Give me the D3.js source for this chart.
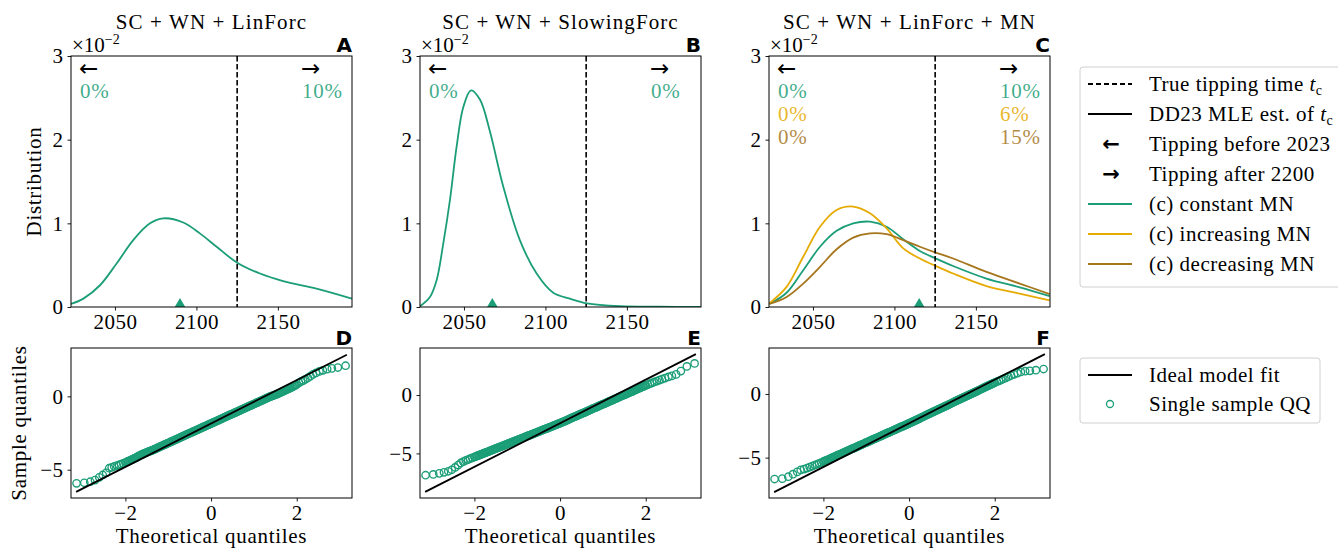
<!DOCTYPE html>
<html>
<head>
<meta charset="utf-8">
<script src="https://cdn.jsdelivr.net/npm/d3@7"></script>
<style>
  body { margin: 0; background: #fff; }
  svg { font-family: 'Liberation Serif', serif; }
</style>
</head>
<body>
<svg id="vis"></svg>
<script>
// ---- data ----
const panelTitles = ['SC + WN + LinForc', 'SC + WN + SlowingForc', 'SC + WN + LinForc + MN'];
const topLetters = ['A', 'B', 'C'];
const botLetters = ['D', 'E', 'F'];

// tipping-time densities (units of 1e-2)
const yearsA = [2023, 2030.6, 2040.8, 2051, 2061.2, 2071.5, 2079.6, 2091.9, 2102.1, 2112.4, 2125, 2139, 2153.2, 2173.7, 2195.4];
const kdeA   = [0.036, 0.10, 0.26, 0.52, 0.80, 1.00, 1.06, 1.01, 0.88, 0.72, 0.53, 0.40, 0.31, 0.22, 0.10];

const yearsB = [2023, 2029.1, 2033.2, 2037.3, 2041.4, 2045.5, 2049.6, 2054.3, 2059.8, 2065.9, 2074.1, 2084.3, 2094.6, 2104.8, 2115, 2125.5, 2145.7, 2170, 2195.4];
const kdeB   = [0.01, 0.12, 0.32, 0.76, 1.28, 1.92, 2.39, 2.59, 2.48, 2.10, 1.44, 0.80, 0.40, 0.17, 0.10, 0.044, 0.01, 0.003, 0.0];

const yearsC    = [2023.2, 2033.8, 2044, 2054.3, 2064.5, 2074.7, 2085, 2095.2, 2105.4, 2115.6, 2125.4, 2136, 2156.5, 2176.9, 2195.3];
const kdeCconst = [0.036, 0.17, 0.44, 0.72, 0.91, 1.00, 1.02, 0.96, 0.81, 0.67, 0.58, 0.49, 0.34, 0.235, 0.13];
const kdeCinc   = [0.044, 0.24, 0.60, 0.96, 1.16, 1.20, 1.12, 0.94, 0.70, 0.58, 0.49, 0.40, 0.25, 0.16, 0.08];
const kdeCdec   = [0.036, 0.12, 0.28, 0.48, 0.69, 0.83, 0.88, 0.87, 0.80, 0.72, 0.65, 0.58, 0.42, 0.28, 0.155];

const trueTipping = 2125;
const mleYears = [2089.9, 2067.4, 2115.2];

const pctBefore = [['0%'], ['0%'], ['0%', '0%', '0%']];
const pctAfter  = [['10%'], ['0%'], ['10%', '6%', '15%']];

const yearTicks = [2050, 2100, 2150];
const densTicks = [0, 1, 2, 3];

// QQ plots: theoretical quantiles shared by all three panels
const qqTheory = [-3.14, -2.96, -2.82, -2.71, -2.61, -2.53, -2.45, -2.38, -2.32, -2.26, -2.2, -2.15, -2.1, -2.05,
  -2, -1.975, -1.95, -1.925, -1.9, -1.875, -1.85, -1.825, -1.8, -1.775,
  -1.75, -1.725, -1.7, -1.675, -1.65, -1.625, -1.6, -1.575, -1.55, -1.525,
  -1.5, -1.475, -1.45, -1.425, -1.4, -1.375, -1.35, -1.325, -1.3, -1.275,
  -1.25, -1.225, -1.2, -1.175, -1.15, -1.125, -1.1, -1.075, -1.05, -1.025,
  -1, -0.975, -0.95, -0.925, -0.9, -0.875, -0.85, -0.825, -0.8, -0.775,
  -0.75, -0.725, -0.7, -0.675, -0.65, -0.625, -0.6, -0.575, -0.55, -0.525,
  -0.5, -0.475, -0.45, -0.425, -0.4, -0.375, -0.35, -0.325, -0.3, -0.275,
  -0.25, -0.225, -0.2, -0.175, -0.15, -0.125, -0.1, -0.075, -0.05, -0.025,
  0,
  0.025, 0.05, 0.075, 0.1, 0.125, 0.15, 0.175, 0.2, 0.225, 0.25,
  0.275, 0.3, 0.325, 0.35, 0.375, 0.4, 0.425, 0.45, 0.475, 0.5,
  0.525, 0.55, 0.575, 0.6, 0.625, 0.65, 0.675, 0.7, 0.725, 0.75,
  0.775, 0.8, 0.825, 0.85, 0.875, 0.9, 0.925, 0.95, 0.975, 1,
  1.025, 1.05, 1.075, 1.1, 1.125, 1.15, 1.175, 1.2, 1.225, 1.25,
  1.275, 1.3, 1.325, 1.35, 1.375, 1.4, 1.425, 1.45, 1.475, 1.5,
  1.525, 1.55, 1.575, 1.6, 1.625, 1.65, 1.675, 1.7, 1.725, 1.75,
  1.775, 1.8, 1.825, 1.85, 1.875, 1.9, 1.925, 1.95, 1.975, 2,
  2.05, 2.1, 2.15, 2.2, 2.26, 2.32, 2.38, 2.45, 2.53, 2.61, 2.71, 2.82, 2.96, 3.14];

const qqSampleD = [-5.93, -5.89, -5.82, -5.71, -5.52, -5.36, -5.21, -4.9, -4.84, -4.78, -4.72, -4.67, -4.62, -4.57,
  -4.51, -4.48, -4.44, -4.41, -4.38, -4.34, -4.31, -4.28, -4.24, -4.21,
  -4.18, -4.14, -4.08, -4.05, -4.01, -3.98, -3.95, -3.91, -3.88, -3.85,
  -3.82, -3.79, -3.76, -3.73, -3.70, -3.68, -3.65, -3.61, -3.58, -3.55,
  -3.51, -3.48, -3.45, -3.41, -3.38, -3.35, -3.31, -3.28, -3.25, -3.21,
  -3.18, -3.15, -3.11, -3.08, -3.05, -3.01, -2.98, -2.95, -2.91, -2.88,
  -2.85, -2.81, -2.78, -2.75, -2.71, -2.68, -2.65, -2.61, -2.58, -2.55,
  -2.51, -2.48, -2.45, -2.41, -2.38, -2.35, -2.31, -2.28, -2.25, -2.21,
  -2.18, -2.15, -2.11, -2.08, -2.05, -2.02, -1.98, -1.95, -1.92, -1.88,
  -1.85,
  -1.82, -1.78, -1.75, -1.72, -1.68, -1.65, -1.62, -1.58, -1.55, -1.52,
  -1.48, -1.45, -1.42, -1.38, -1.35, -1.32, -1.28, -1.25, -1.22, -1.19,
  -1.15, -1.12, -1.09, -1.05, -1.02, -0.99, -0.95, -0.92, -0.89, -0.85,
  -0.82, -0.79, -0.75, -0.72, -0.69, -0.65, -0.62, -0.59, -0.55, -0.52,
  -0.49, -0.45, -0.42, -0.39, -0.35, -0.32, -0.29, -0.25, -0.22, -0.19,
  -0.15, -0.12, -0.09, -0.05, -0.02, 0.00, 0.03, 0.06, 0.09, 0.11,
  0.14, 0.17, 0.21, 0.24, 0.27, 0.31, 0.34, 0.37, 0.41, 0.44,
  0.47, 0.51, 0.54, 0.57, 0.61, 0.65, 0.69, 0.73, 0.77, 0.81,
  0.92, 1.0, 1.08, 1.16, 1.26, 1.38, 1.5, 1.6, 1.7, 1.78, 1.86, 1.91, 1.97, 2.09];

const qqSampleE = [-6.87, -6.80, -6.71, -6.62, -6.53, -6.40, -6.20, -6.00, -5.82, -5.70, -5.60, -5.53, -5.45, -5.38,
  -5.31, -5.27, -5.24, -5.20, -5.17, -5.13, -5.09, -5.06, -5.02, -4.98,
  -4.95, -4.91, -4.88, -4.84, -4.80, -4.77, -4.73, -4.69, -4.66, -4.62,
  -4.59, -4.55, -4.51, -4.48, -4.44, -4.40, -4.37, -4.33, -4.30, -4.26,
  -4.22, -4.19, -4.15, -4.11, -4.08, -4.04, -4.01, -3.97, -3.93, -3.90,
  -3.86, -3.82, -3.79, -3.75, -3.72, -3.68, -3.64, -3.61, -3.57, -3.53,
  -3.50, -3.46, -3.43, -3.39, -3.35, -3.32, -3.28, -3.24, -3.21, -3.17,
  -3.14, -3.10, -3.06, -3.03, -2.99, -2.95, -2.92, -2.88, -2.85, -2.81,
  -2.77, -2.74, -2.70, -2.66, -2.63, -2.59, -2.56, -2.52, -2.48, -2.45,
  -2.41,
  -2.37, -2.33, -2.29, -2.25, -2.21, -2.17, -2.13, -2.09, -2.05, -2.00,
  -1.96, -1.92, -1.88, -1.84, -1.80, -1.76, -1.72, -1.68, -1.64, -1.60,
  -1.56, -1.52, -1.48, -1.44, -1.40, -1.36, -1.32, -1.28, -1.24, -1.19,
  -1.15, -1.11, -1.07, -1.03, -0.99, -0.95, -0.91, -0.87, -0.83, -0.79,
  -0.75, -0.71, -0.67, -0.63, -0.59, -0.55, -0.51, -0.47, -0.43, -0.39,
  -0.34, -0.30, -0.26, -0.22, -0.18, -0.14, -0.10, -0.06, -0.02, 0.02,
  0.06, 0.10, 0.14, 0.18, 0.22, 0.26, 0.30, 0.34, 0.38, 0.43,
  0.47, 0.51, 0.55, 0.59, 0.63, 0.67, 0.71, 0.75, 0.79, 0.83,
  0.9, 0.97, 1.05, 1.12, 1.2, 1.28, 1.36, 1.45, 1.55, 1.64, 1.77, 2.05, 2.45, 2.71];

const qqSampleF = [-6.68, -6.65, -6.50, -6.30, -6.12, -5.97, -5.90, -5.82, -5.74, -5.66, -5.58, -5.52, -5.45, -5.39,
  -5.32, -5.28, -5.24, -5.21, -5.17, -5.13, -5.09, -5.06, -5.02, -4.98,
  -4.94, -4.91, -4.87, -4.83, -4.79, -4.76, -4.72, -4.68, -4.64, -4.61,
  -4.57, -4.53, -4.49, -4.45, -4.42, -4.38, -4.34, -4.30, -4.27, -4.23,
  -4.19, -4.15, -4.12, -4.08, -4.04, -4.00, -3.97, -3.93, -3.89, -3.85,
  -3.82, -3.78, -3.74, -3.70, -3.66, -3.63, -3.59, -3.55, -3.51, -3.48,
  -3.44, -3.40, -3.36, -3.33, -3.29, -3.25, -3.21, -3.18, -3.14, -3.10,
  -3.06, -3.02, -2.99, -2.95, -2.91, -2.87, -2.84, -2.80, -2.76, -2.72,
  -2.69, -2.65, -2.61, -2.57, -2.54, -2.50, -2.46, -2.42, -2.39, -2.35,
  -2.31,
  -2.27, -2.23, -2.19, -2.15, -2.11, -2.07, -2.03, -1.99, -1.95, -1.91,
  -1.87, -1.83, -1.79, -1.75, -1.71, -1.67, -1.63, -1.59, -1.55, -1.51,
  -1.47, -1.43, -1.39, -1.35, -1.31, -1.27, -1.23, -1.19, -1.15, -1.11,
  -1.07, -1.03, -0.99, -0.95, -0.91, -0.87, -0.83, -0.79, -0.75, -0.71,
  -0.67, -0.63, -0.59, -0.55, -0.51, -0.47, -0.43, -0.39, -0.35, -0.31,
  -0.27, -0.23, -0.19, -0.15, -0.11, -0.07, -0.03, 0.01, 0.05, 0.09,
  0.13, 0.17, 0.21, 0.25, 0.29, 0.33, 0.37, 0.41, 0.45, 0.49,
  0.53, 0.57, 0.61, 0.65, 0.69, 0.73, 0.77, 0.81, 0.85, 0.89,
  0.96, 1.03, 1.1, 1.18, 1.27, 1.36, 1.45, 1.54, 1.63, 1.73, 1.79, 1.82, 1.87, 1.96];

// ideal model fit lines: intercept, slope
const fitIntercept = [-1.85, -2.41, -2.31];
const fitSlope = [1.48, 1.867, 1.715];
const fitRange = [-3.15, 3.17];

const qqXTicks = [-2, 0, 2];
const qqYTicks = [-5, 0];

// ---- styling / layout ----
const green = '#1b9e77', yellow = '#e6ab02', brown = '#a6761d';
const width = 1338, height = 550;
const colLeft = [71, 420, 769];
const plotW = 281;
const topBox = {top: 56, bottom: 307};
const botBox = {top: 348, bottom: 498};
const yearDomain = [2023, 2195.5];
const qqXDomain = [-3.27, 3.29];
const qqYDomains = [[-6.93, 3.3], [-8.82, 4.03], [-8.17, 3.61]];
const FS = 21;
const LS = 0.7; // serif text runs a little wider in the original

const svg = d3.select('#vis').attr('width', width).attr('height', height);
const defs = svg.append('defs');

function styleAxis(g) {
  g.select('.domain').remove();
  g.attr('font-family', "'Liberation Serif', serif").attr('font-size', FS);
  g.selectAll('.tick line').attr('stroke', '#000').attr('stroke-width', 0.9);
  g.selectAll('.tick text').attr('fill', '#000').attr('letter-spacing', 0.5);
}

function clipFor(id, x0, y0, w, h) {
  defs.append('clipPath').attr('id', id)
    .append('rect').attr('x', x0).attr('y', y0).attr('width', w).attr('height', h);
  return `url(#${id})`;
}

function letter(g, txt, xr, yb) {
  g.append('text').attr('x', xr).attr('y', yb).attr('text-anchor', 'end')
    .attr('font-family', "'DejaVu Sans', sans-serif").attr('font-weight', 'bold')
    .attr('font-size', 20).text(txt);
}

// ---- top row: tipping time distributions ----
const topSeries = [
  [{years: yearsA, vals: kdeA, color: green}],
  [{years: yearsB, vals: kdeB, color: green}],
  [{years: yearsC, vals: kdeCconst, color: green},
   {years: yearsC, vals: kdeCinc, color: yellow},
   {years: yearsC, vals: kdeCdec, color: brown}]
];
const pctColors = [[green], [green], [green, yellow, brown]];

topSeries.forEach((series, i) => {
  const x0 = colLeft[i];
  const g = svg.append('g');
  const x = d3.scaleLinear().domain(yearDomain).range([x0, x0 + plotW]);
  const y = d3.scaleLinear().domain([0, 3]).range([topBox.bottom, topBox.top]);

  g.append('g').attr('transform', `translate(0,${topBox.bottom})`)
    .call(d3.axisBottom(x).tickValues(yearTicks).tickFormat(d3.format('d')).tickSize(3.5).tickPadding(4))
    .call(styleAxis);
  g.append('g').attr('transform', `translate(${x0},0)`)
    .call(d3.axisLeft(y).tickValues(densTicks).tickFormat(d3.format('d')).tickSize(3.5).tickPadding(4))
    .call(styleAxis);

  const clip = clipFor('clipTop' + i, x0, topBox.top, plotW, topBox.bottom - topBox.top);
  const line = d3.line().x(d => x(d[0])).y(d => y(d[1])).curve(d3.curveCatmullRom.alpha(0.5));

  g.append('g').attr('clip-path', clip).selectAll('path.kde')
    .data(series).enter().append('path')
      .attr('class', 'kde')
      .attr('d', s => line(s.years.map((yr, k) => [yr, s.vals[k]])))
      .attr('fill', 'none')
      .attr('stroke', s => s.color)
      .attr('stroke-width', 1.8);

  // true tipping time
  g.append('line')
    .attr('x1', x(trueTipping)).attr('x2', x(trueTipping))
    .attr('y1', topBox.top).attr('y2', topBox.bottom)
    .attr('stroke', '#000').attr('stroke-width', 1.6).attr('stroke-dasharray', '5.5,2.5');

  // MLE marker
  g.append('path')
    .attr('d', d3.symbol(d3.symbolTriangle, 48)())
    .attr('transform', `translate(${x(mleYears[i])},${topBox.bottom - 3})`)
    .attr('fill', green);

  g.append('rect').attr('x', x0).attr('y', topBox.top)
    .attr('width', plotW).attr('height', topBox.bottom - topBox.top)
    .attr('fill', 'none').attr('stroke', '#000').attr('stroke-width', 1);

  // arrows and percentages
  const xl = x0 + 8, xr = x0 + plotW - 51;
  [[xl, '\u2190', pctBefore[i]], [xr, '\u2192', pctAfter[i]]].forEach(([xx, arrow, pcts]) => {
    g.append('text').attr('x', xx).attr('y', 76)
      .attr('font-family', "'DejaVu Sans', sans-serif")
      .attr('font-size', 23).text(arrow);
    g.selectAll(null).data(pcts).enter().append('text')
      .attr('x', xx + 1).attr('y', (d, k) => 98 + k * 23)
      .attr('font-size', FS).attr('letter-spacing', LS)
      .attr('fill', (d, k) => pctColors[i][k]).attr('fill-opacity', 0.85)
      .text(d => d);
  });

  // title, scale factor, letter
  g.append('text').attr('x', x0 + plotW / 2).attr('y', 29).attr('text-anchor', 'middle')
    .attr('font-size', FS).attr('letter-spacing', 1.1).text(panelTitles[i]);
  const sf = g.append('text').attr('x', x0 + 1).attr('y', 52).attr('font-size', FS);
  sf.append('tspan').text('\u00d710');
  sf.append('tspan').attr('dy', -8).attr('font-size', 14).text('\u22122');
  letter(g, topLetters[i], x0 + plotW, 52);
});

svg.append('text')
  .attr('transform', `translate(41,${(topBox.top + topBox.bottom) / 2}) rotate(-90)`)
  .attr('text-anchor', 'middle').attr('font-size', FS).attr('letter-spacing', LS).text('Distribution');

// ---- bottom row: QQ plots ----
const qqSamples = [qqSampleD, qqSampleE, qqSampleF];

qqSamples.forEach((sample, i) => {
  const x0 = colLeft[i];
  const g = svg.append('g');
  const x = d3.scaleLinear().domain(qqXDomain).range([x0, x0 + plotW]);
  const y = d3.scaleLinear().domain(qqYDomains[i]).range([botBox.bottom, botBox.top]);

  g.append('g').attr('transform', `translate(0,${botBox.bottom})`)
    .call(d3.axisBottom(x).tickValues(qqXTicks).tickFormat(d3.format('d')).tickSize(3.5).tickPadding(4))
    .call(styleAxis);
  g.append('g').attr('transform', `translate(${x0},0)`)
    .call(d3.axisLeft(y).tickValues(qqYTicks).tickFormat(d3.format('d')).tickSize(3.5).tickPadding(4))
    .call(styleAxis);

  const clip = clipFor('clipBot' + i, x0, botBox.top, plotW, botBox.bottom - botBox.top);
  const pg = g.append('g').attr('clip-path', clip);

  pg.selectAll('circle').data(qqTheory).enter().append('circle')
    .attr('cx', d => x(d))
    .attr('cy', (d, k) => y(sample[k]))
    .attr('r', 3.7)
    .attr('fill', 'none')
    .attr('stroke', green)
    .attr('stroke-width', 1.35);

  pg.append('line')
    .attr('x1', x(fitRange[0])).attr('y1', y(fitIntercept[i] + fitSlope[i] * fitRange[0]))
    .attr('x2', x(fitRange[1])).attr('y2', y(fitIntercept[i] + fitSlope[i] * fitRange[1]))
    .attr('stroke', '#000').attr('stroke-width', 1.8);

  g.append('rect').attr('x', x0).attr('y', botBox.top)
    .attr('width', plotW).attr('height', botBox.bottom - botBox.top)
    .attr('fill', 'none').attr('stroke', '#000').attr('stroke-width', 1);

  g.append('text').attr('x', x0 + plotW / 2).attr('y', 543).attr('text-anchor', 'middle')
    .attr('font-size', FS).attr('letter-spacing', LS).text('Theoretical quantiles');
  letter(g, botLetters[i], x0 + plotW, 345);
});

svg.append('text')
  .attr('transform', `translate(26,${(botBox.top + botBox.bottom) / 2}) rotate(-90)`)
  .attr('text-anchor', 'middle').attr('font-size', FS).attr('letter-spacing', LS).text('Sample quantiles');

// ---- legends ----
function tcLabel(t, prefix) {
  t.append('tspan').text(prefix);
  t.append('tspan').attr('font-style', 'italic').text('t');
  t.append('tspan').attr('dy', 4).attr('font-size', 14).text('c');
}

const leg1 = svg.append('g');
leg1.append('rect').attr('x', 1080).attr('y', 67).attr('width', 280).attr('height', 220)
  .attr('rx', 3).attr('fill', '#fff').attr('stroke', '#d0d0d0');
const legItems = [
  {kind: 'line', color: '#000', dash: '5,3', label: 'True tipping time ', tc: true},
  {kind: 'line', color: '#000', label: 'DD23 MLE est. of ', tc: true},
  {kind: 'text', glyph: '\u2190', label: 'Tipping before 2023'},
  {kind: 'text', glyph: '\u2192', label: 'Tipping after 2200'},
  {kind: 'line', color: green, label: '(c) constant MN'},
  {kind: 'line', color: yellow, label: '(c) increasing MN'},
  {kind: 'line', color: brown, label: '(c) decreasing MN'}
];
legItems.forEach((it, k) => {
  const cy = 84 + k * 30;
  if (it.kind === 'line') {
    leg1.append('line').attr('x1', 1088).attr('x2', 1132).attr('y1', cy).attr('y2', cy)
      .attr('stroke', it.color).attr('stroke-width', 1.8)
      .attr('stroke-dasharray', it.dash || null);
  } else {
    leg1.append('text').attr('x', 1111).attr('y', cy + 7).attr('text-anchor', 'middle')
      .attr('font-family', "'DejaVu Sans', sans-serif").attr('font-weight', 'bold')
      .attr('font-size', 21).text(it.glyph);
  }
  const t = leg1.append('text').attr('x', 1149).attr('y', cy + 7)
    .attr('font-size', 21).attr('letter-spacing', 0.5);
  if (it.tc) tcLabel(t, it.label); else t.text(it.label);
});

const leg2 = svg.append('g');
leg2.append('rect').attr('x', 1080).attr('y', 358).attr('width', 240).attr('height', 65)
  .attr('rx', 3).attr('fill', '#fff').attr('stroke', '#d0d0d0');
leg2.append('line').attr('x1', 1088).attr('x2', 1132).attr('y1', 375).attr('y2', 375)
  .attr('stroke', '#000').attr('stroke-width', 1.8);
leg2.append('text').attr('x', 1149).attr('y', 382).attr('font-size', 21).attr('letter-spacing', 0.5)
  .text('Ideal model fit');
leg2.append('circle').attr('cx', 1110).attr('cy', 404).attr('r', 3.5)
  .attr('fill', 'none').attr('stroke', green).attr('stroke-width', 1.3);
leg2.append('text').attr('x', 1149).attr('y', 411).attr('font-size', 21).attr('letter-spacing', 0.5)
  .text('Single sample QQ');
</script>
</body>
</html>
